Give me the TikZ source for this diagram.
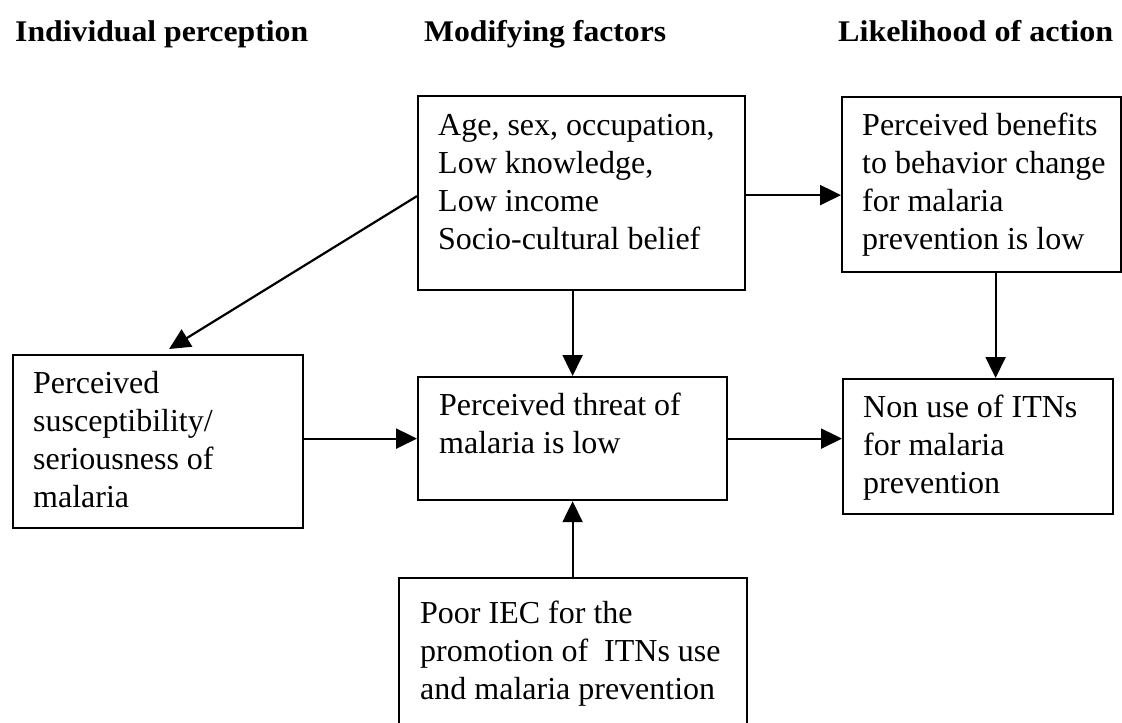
\documentclass[tikz,border=0pt]{standalone}
\usepackage{graphicx}
\usepackage{fontspec}
\setmainfont{Liberation Serif}
\usetikzlibrary{arrows.meta,calc}
\tikzset{
  box/.style={draw, line width=2.2pt, rectangle, inner sep=0pt, anchor=north west},
  txt/.style={anchor=north west, inner sep=0pt, align=left, font=\fontsize{32}{38}\selectfont},
  hdr/.style={anchor=base west, inner sep=0pt, font=\fontsize{30}{34}\selectfont\bfseries},
  arr/.style={line width=2.2pt, -{Triangle[length=21pt,width=20pt]}},
}
\begin{document}
\begin{tikzpicture}[x=1pt,y=-1pt]
\clip (0,0) rectangle (1122,723);
\useasboundingbox (0,0) rectangle (1122,723);
\fill[white] (0,0) rectangle (1122,723);

% headers
\node[hdr] (h1) at (15,41) {\resizebox{293pt}{\height}{Individual perception}};
\node[hdr] (h2) at (424,41) {\resizebox{242pt}{\height}{Modifying factors}};
\node[hdr] (h3) at (838,41) {\resizebox{275pt}{\height}{Likelihood of action}};

% boxes
\node[box, minimum width=327pt, minimum height=194pt] (tc) at (417,95) {};
\node[box, minimum width=279pt, minimum height=175pt] (tr) at (841,96) {};
\node[box, minimum width=290pt, minimum height=173pt] (lb) at (12,354) {};
\node[box, minimum width=309pt, minimum height=123pt] (mc) at (417,376) {};
\node[box, minimum width=270pt, minimum height=135pt] (rb) at (842,378) {};
\node[box, minimum width=348pt, minimum height=175pt] (bb) at (398,577) {};

% texts
\node[txt] (ttc) at (438,108.4) {\strut Age, sex, occupation,\\Low knowledge,\\Low income\\Socio-cultural belief};
\node[txt] (ttr) at (862,108.4) {\strut Perceived benefits\\to behavior change\\for malaria\\prevention is low};
\node[txt] (tlb) at (33,366.4) {\strut Perceived\\susceptibility/\\seriousness of\\malaria};
\node[txt] (tmc) at (439,388.4) {\strut Perceived threat of\\malaria is low};
\node[txt] (trb) at (863,390.4) {\strut Non use of ITNs\\for malaria\\prevention};
\node[txt] (tbb) at (420,596.4) {\strut Poor IEC for the\\promotion of\ \ ITNs use\\and malaria prevention};

% connectors
\draw[arr] ([yshift=-3pt]tc.west) -- ([xshift=11pt,yshift=5pt]lb.north);
\draw[arr] (tc.south -| mc.north) -- (mc.north);
\draw[arr] ([yshift=-2pt]tc.east) -- ([yshift=-2pt]tc.east -| tr.west);
\draw[arr] ([xshift=14pt]tr.south) -- ([xshift=14pt]tr.south |- rb.north);
\draw[arr] (lb.east |- mc.west) -- (mc.west);
\draw[arr] (mc.east) -- (mc.east -| rb.west);
\draw[arr] (mc.south |- bb.north) -- (mc.south);
\end{tikzpicture}
\end{document}
